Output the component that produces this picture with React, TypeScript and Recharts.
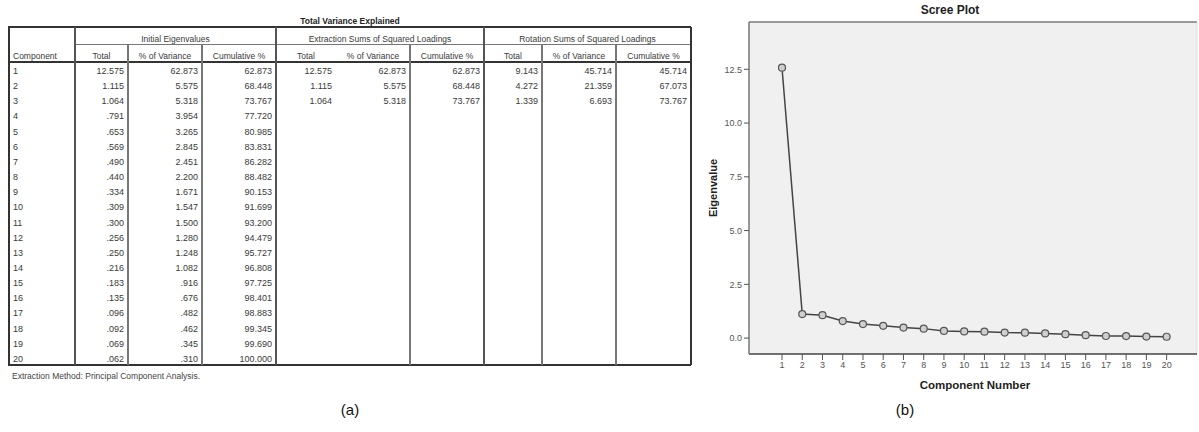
import React from "react";
import {
  LineChart,
  Line,
  XAxis,
  YAxis,
  CartesianGrid,
  ReferenceLine,
} from "recharts";

// ---- data (read from the SPSS output) ----
const components = [1, 2, 3, 4, 5, 6, 7, 8, 9, 10, 11, 12, 13, 14, 15, 16, 17, 18, 19, 20];
const eigenvalues = [
  12.575, 1.115, 1.064, 0.791, 0.653, 0.569, 0.49, 0.44, 0.334, 0.309,
  0.3, 0.256, 0.25, 0.216, 0.183, 0.135, 0.096, 0.092, 0.069, 0.062,
];
const initialPct = [
  62.873, 5.575, 5.318, 3.954, 3.265, 2.845, 2.451, 2.2, 1.671, 1.547,
  1.5, 1.28, 1.248, 1.082, 0.916, 0.676, 0.482, 0.462, 0.345, 0.31,
];
const initialCum = [
  62.873, 68.448, 73.767, 77.72, 80.985, 83.831, 86.282, 88.482, 90.153, 91.699,
  93.2, 94.479, 95.727, 96.808, 97.725, 98.401, 98.883, 99.345, 99.69, 100.0,
];
const extractionTotal = [12.575, 1.115, 1.064];
const extractionPct = [62.873, 5.575, 5.318];
const extractionCum = [62.873, 68.448, 73.767];
const rotationTotal = [9.143, 4.272, 1.339];
const rotationPct = [45.714, 21.359, 6.693];
const rotationCum = [45.714, 67.073, 73.767];

const groupHeaders = [
  "Initial Eigenvalues",
  "Extraction Sums of Squared Loadings",
  "Rotation Sums of Squared Loadings",
];
const colHeaders = ["Total", "% of Variance", "Cumulative %"];
const yTicks = [0, 2.5, 5, 7.5, 10, 12.5];

const screeData = components.map((c, i) => ({ component: c, eigen: eigenvalues[i] }));

// SPSS style: three decimals, no leading zero
const fmt = (v?: number) =>
  v === undefined ? "" : v.toFixed(3).replace(/^0\./, ".");

const FONT = "'Liberation Sans', Arial, sans-serif";

// table geometry (px, relative to table box)
const TBL_LEFT = 9;
const TBL_TOP = 27;
const colEdges = [0, 66, 119, 193, 267, 327, 401, 475, 533, 607, 682];
const H1 = 17;
const H2 = 35;
const ROW_H = 15.15;

const VarianceTable = () => {
  const columns = [
    eigenvalues, initialPct, initialCum,
    extractionTotal, extractionPct, extractionCum,
    rotationTotal, rotationPct, rotationCum,
  ];
  const height = H2 + ROW_H * components.length;
  const width = colEdges[colEdges.length - 1];

  const vline = (i: number) => {
    const x = colEdges[i];
    if (i === 5) return null; // no separator there in the original
    const outer = i === 0 || i === colEdges.length - 1;
    const group = i === 1 || i === 4 || i === 7;
    const top = outer || group ? 0 : H1;
    return (
      <div
        key={"v" + i}
        style={{
          position: "absolute",
          left: x - (outer ? 1 : 1),
          top,
          width: outer ? 2 : group ? 2 : 1.5,
          height: height - top,
          background: outer ? "#333" : group ? "#555" : "#777",
        }}
      />
    );
  };

  const text = (
    key: string,
    content: string,
    x0: number,
    x1: number,
    yc: number,
    align: "left" | "right" | "center",
    size = 9,
  ) => (
    <div
      key={key}
      style={{
        position: "absolute",
        left: x0 + 4,
        width: x1 - x0 - 8,
        top: yc - 6,
        height: 12,
        lineHeight: "12px",
        fontSize: size,
        textAlign: align,
        color: "#3a3a3a",
        whiteSpace: "nowrap",
      }}
    >
      {content}
    </div>
  );

  return (
    <div
      style={{
        position: "absolute",
        left: TBL_LEFT,
        top: TBL_TOP,
        width,
        height,
        fontFamily: FONT,
      }}
    >
      {/* horizontal rules */}
      <div style={{ position: "absolute", left: -1, top: -1, width: width + 1, height: 2, background: "#333" }} />
      <div style={{ position: "absolute", left: colEdges[1], top: H1, width: width - colEdges[1], height: 1, background: "#777" }} />
      <div style={{ position: "absolute", left: -1, top: H2 - 1, width: width + 1, height: 2, background: "#333" }} />
      <div style={{ position: "absolute", left: -1, top: height - 1, width: width + 1, height: 2, background: "#333" }} />
      {colEdges.map((_, i) => vline(i))}

      {groupHeaders.map((g, gi) =>
        text("g" + gi, g, colEdges[1 + gi * 3], colEdges[4 + gi * 3], 12, "center", 8.5),
      )}
      {text("comp", "Component", colEdges[0], colEdges[1], 29, "left", 8.5)}
      {[0, 1, 2].flatMap((gi) =>
        colHeaders.map((h, hi) =>
          text(`h${gi}-${hi}`, h, colEdges[1 + gi * 3 + hi], colEdges[2 + gi * 3 + hi], 29, "center", 8.5),
        ),
      )}

      {components.map((c, r) => {
        const yc = H2 + ROW_H * r + 9;
        return (
          <React.Fragment key={"r" + r}>
            {text(`c${r}`, String(c), colEdges[0], colEdges[1], yc, "left")}
            {columns.map((col, ci) =>
              text(`d${r}-${ci}`, fmt(col[r]), colEdges[1 + ci], colEdges[2 + ci], yc, "right"),
            )}
          </React.Fragment>
        );
      })}
    </div>
  );
};

const abs = (style: React.CSSProperties): React.CSSProperties => ({
  position: "absolute",
  fontFamily: FONT,
  whiteSpace: "nowrap",
  ...style,
});

export default function App() {
  const xDomain: [number, number] = [-0.63, 21.5];
  const yDomain: [number, number] = [-0.74, 14.7];

  return (
    <div style={{ position: "relative", width: 1199, height: 432, background: "#fff", overflow: "hidden" }}>
      <style>{`body{margin:0}`}</style>

      {/* (a) table */}
      <div style={abs({ left: 250, top: 16, width: 200, textAlign: "center", fontSize: 8.5, fontWeight: "bold", color: "#222" })}>
        Total Variance Explained
      </div>
      <VarianceTable />
      <div style={abs({ left: 12, top: 371, fontSize: 8.5, color: "#444" })}>
        Extraction Method: Principal Component Analysis.
      </div>
      <div style={abs({ left: 320, top: 401, width: 60, textAlign: "center", fontSize: 15, color: "#111" })}>(a)</div>

      {/* (b) scree plot */}
      <div style={abs({ left: 850, top: 3, width: 200, textAlign: "center", fontSize: 12, fontWeight: "bold", color: "#222" })}>
        Scree Plot
      </div>
      <div style={abs({ left: 0, top: 0, width: 1, height: 1 })}>
        <div
          style={abs({
            left: 713 - 50,
            top: 188 - 8,
            width: 100,
            height: 16,
            lineHeight: "16px",
            textAlign: "center",
            fontSize: 11,
            fontWeight: "bold",
            color: "#222",
            transform: "rotate(-90deg)",
            transformOrigin: "50% 50%",
          })}
        >
          Eigenvalue
        </div>
      </div>
      <div style={abs({ left: 875, top: 379, width: 200, textAlign: "center", fontSize: 11.5, fontWeight: "bold", color: "#222" })}>
        Component Number
      </div>
      <div style={abs({ left: 875, top: 401, width: 60, textAlign: "center", fontSize: 15, color: "#111" })}>(b)</div>

      <div style={{ position: "absolute", left: 700, top: 0 }}>
        <LineChart
          width={499}
          height={400}
          data={screeData}
          margin={{ top: 22, right: 2, left: 0, bottom: 0 }}
        >
          <CartesianGrid horizontal={false} vertical={false} fill="#f0f0f0" />
          <XAxis
            dataKey="component"
            type="number"
            domain={xDomain}
            allowDataOverflow
            ticks={components}
            interval={0}
            height={46}
            tickSize={6}
            tick={{ fontSize: 9, fill: "#555", fontFamily: FONT }}
            tickLine={{ stroke: "#555" }}
            axisLine={{ stroke: "#444", strokeWidth: 1.5 }}
          />
          <YAxis
            type="number"
            domain={yDomain}
            allowDataOverflow
            ticks={yTicks}
            width={49}
            tickSize={5}
            tickFormatter={(v: number) => v.toFixed(1)}
            tick={{ fontSize: 9, fill: "#555", fontFamily: FONT }}
            tickLine={{ stroke: "#555" }}
            axisLine={{ stroke: "#777", strokeWidth: 1.5 }}
          />
          <ReferenceLine y={yDomain[1]} stroke="#999" strokeWidth={2} />
          <ReferenceLine x={xDomain[1]} stroke="#ddd" strokeWidth={1} />
          <Line
            type="linear"
            dataKey="eigen"
            stroke="#444"
            strokeWidth={1.5}
            dot={{ r: 3.5, fill: "#cfcfcf", stroke: "#555", strokeWidth: 1.2 }}
            isAnimationActive={false}
          />
        </LineChart>
      </div>
    </div>
  );
}
